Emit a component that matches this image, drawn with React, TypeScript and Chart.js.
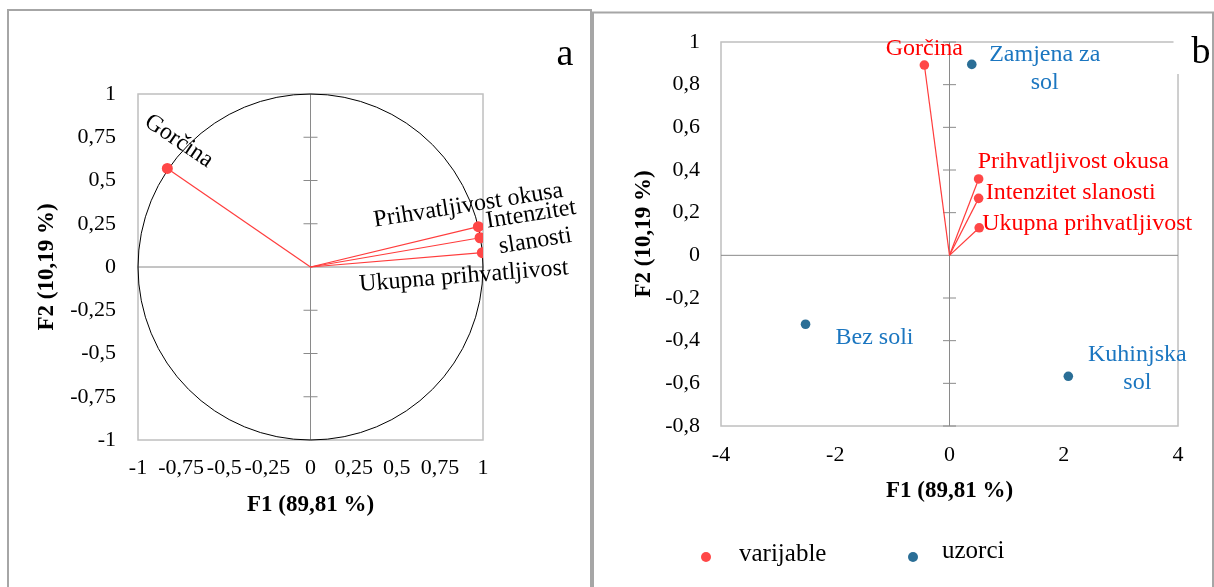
import React, { useEffect, useRef } from 'react';
import { Chart, registerables } from 'chart.js';

Chart.register(...registerables);

const FONT = '"Liberation Serif", "Times New Roman", Times, serif';

// ---------- shared text ----------
const xTitle = 'F1 (89,81 %)';
const yTitle = 'F2 (10,19 %)';

// ---------- panel a: correlation circle ----------
const aVarLabels: (string | string[])[] = ['Gorčina', 'Prihvatljivost okusa', ['Intenzitet', 'slanosti'], 'Ukupna prihvatljivost'];
const aF1 = [-0.83, 0.973, 0.983, 0.996];
const aF2 = [0.57, 0.233, 0.169, 0.083];
const aTicks = [-1, -0.75, -0.5, -0.25, 0, 0.25, 0.5, 0.75, 1];

// ---------- panel b: biplot ----------
const bVarLabels = ['Gorčina', 'Prihvatljivost okusa', 'Intenzitet slanosti', 'Ukupna prihvatljivost'];
const bVarF1 = [-0.44, 0.51, 0.51, 0.52];
const bVarF2 = [0.892, 0.358, 0.267, 0.129];
const sampleLabels: string[][] = [['Zamjena za', 'sol'], ['Bez soli'], ['Kuhinjska', 'sol']];
const sampleF1 = [0.39, -2.52, 2.08];
const sampleF2 = [0.895, -0.323, -0.567];
const bXTicks = [-4, -2, 0, 2, 4];
const bYTicks = [-0.8, -0.6, -0.4, -0.2, 0, 0.2, 0.4, 0.6, 0.8, 1];
const legendNames = ['varijable', 'uzorci'];

// ---------- styles (label placement relative to the point, in px) ----------
const aLabelStyle = [
  { dx: 8, dy: -22, rot: 34 },
  { dx: -9, dy: -15, rot: -9 },
  { dx: 52, dy: -17, rot: -9 },
  { dx: -18, dy: 30, rot: -4.6 },
];
const bVarLabelStyle = [
  { dx: 0, dy: -10, align: 'center' },
  { dx: -1, dy: -11, align: 'left' },
  { dx: 7, dy: 1, align: 'left' },
  { dx: 3, dy: 2, align: 'left' },
];
const sampleLabelStyle = [
  { dx: 73, dy: -3 },
  { dx: 69, dy: 20 },
  { dx: 69, dy: -15 },
];

const RED_PT = '#FF4747';
const RED_LINE = '#FF3C3C';
const RED_TXT = '#FF0000';
const BLUE_PT = '#2A6E96';
const BLUE_TXT = '#1B76C0';
const FRAME = '#A6A6A6';
const PLOT_BORDER = '#BFBFBF';
const AXIS = '#8A8A8A';

const fmt = (v: any) => String(v).replace('.', ',');

function drawText(
  ctx: CanvasRenderingContext2D,
  lines: string[],
  x: number,
  y: number,
  o: { rot?: number; align?: CanvasTextAlign; color: string; size: number; lh?: number; weight?: string }
) {
  ctx.save();
  ctx.translate(x, y);
  ctx.rotate(((o.rot || 0) * Math.PI) / 180);
  ctx.font = `${o.weight || 'normal'} ${o.size}px ${FONT}`;
  ctx.fillStyle = o.color;
  ctx.textAlign = o.align || 'center';
  ctx.textBaseline = 'alphabetic';
  lines.forEach((t, i) => ctx.fillText(t, 0, i * (o.lh || 27)));
  ctx.restore();
}

function line(ctx: CanvasRenderingContext2D, x1: number, y1: number, x2: number, y2: number) {
  ctx.beginPath();
  ctx.moveTo(x1, y1);
  ctx.lineTo(x2, y2);
  ctx.stroke();
}

function axisCfg(ticks: number[], min: number, max: number, title: string, isX: boolean, size: number, pad: number, titlePad: any) {
  return {
    type: 'linear' as const,
    min,
    max,
    afterBuildTicks: (s: any) => {
      s.ticks = ticks.map((v) => ({ value: v }));
    },
    afterFit: (s: any) => {
      if (isX) s.height = size;
      else s.width = size;
    },
    grid: { display: false, drawTicks: false, tickLength: 0 },
    border: { display: false },
    ticks: {
      autoSkip: false,
      maxRotation: 0,
      minRotation: 0,
      padding: pad,
      color: '#000',
      font: { family: FONT, size: 22 },
      callback: (v: any) => fmt(v),
    },
    title: {
      display: true,
      text: title,
      color: '#000',
      font: { family: FONT, size: 23, weight: 'bold' as const },
      padding: titlePad,
    },
  };
}

const panelAPlugin = {
  id: 'panelA',
  beforeDatasetsDraw(chart: any) {
    const { ctx, chartArea: ca, scales } = chart;
    const xs = scales.x;
    const ys = scales.y;
    ctx.save();
    ctx.strokeStyle = FRAME;
    ctx.lineWidth = 2;
    ctx.beginPath();
    ctx.moveTo(8, 587);
    ctx.lineTo(8, 10);
    ctx.lineTo(591, 10);
    ctx.lineTo(591, 587);
    ctx.stroke();

    ctx.strokeStyle = PLOT_BORDER;
    ctx.lineWidth = 1.5;
    ctx.strokeRect(ca.left, ca.top, ca.right - ca.left, ca.bottom - ca.top);

    const x0 = xs.getPixelForValue(0);
    const y0 = ys.getPixelForValue(0);
    ctx.strokeStyle = AXIS;
    ctx.lineWidth = 1;
    line(ctx, ca.left, y0, ca.right, y0);
    line(ctx, x0, ca.top, x0, ca.bottom);
    aTicks.forEach((v) => {
      if (v !== 0 && Math.abs(v) < 1) {
        const py = ys.getPixelForValue(v);
        line(ctx, x0 - 7, py, x0 + 7, py);
      }
    });

    ctx.strokeStyle = '#000';
    ctx.lineWidth = 1;
    ctx.beginPath();
    ctx.ellipse(x0, y0, xs.getPixelForValue(1) - x0, y0 - ys.getPixelForValue(1), 0, 0, Math.PI * 2);
    ctx.stroke();
    ctx.restore();
  },
  afterDatasetsDraw(chart: any) {
    const { ctx, scales } = chart;
    aVarLabels.forEach((lab, i) => {
      const px = scales.x.getPixelForValue(aF1[i]);
      const py = scales.y.getPixelForValue(aF2[i]);
      const st = aLabelStyle[i];
      drawText(ctx, Array.isArray(lab) ? lab : [lab], px + st.dx, py + st.dy, {
        rot: st.rot,
        color: '#000',
        size: 24,
        lh: 27,
      });
    });
    drawText(ctx, ['a'], 565, 65, { color: '#000', size: 38 });
  },
};

const OFFSET_B = 592;

const panelBPlugin = {
  id: 'panelB',
  beforeDatasetsDraw(chart: any) {
    const { ctx, chartArea: ca, scales } = chart;
    const xs = scales.x;
    const ys = scales.y;
    ctx.save();
    ctx.strokeStyle = FRAME;
    ctx.lineWidth = 2;
    ctx.beginPath();
    ctx.moveTo(1, 587);
    ctx.lineTo(1, 12.5);
    ctx.lineTo(621, 12.5);
    ctx.lineTo(621, 587);
    ctx.stroke();

    ctx.strokeStyle = PLOT_BORDER;
    ctx.lineWidth = 1.5;
    ctx.strokeRect(ca.left, ca.top, ca.right - ca.left, ca.bottom - ca.top);

    const x0 = xs.getPixelForValue(0);
    const y0 = ys.getPixelForValue(0);
    ctx.strokeStyle = AXIS;
    ctx.lineWidth = 1;
    line(ctx, ca.left, y0, ca.right, y0);
    line(ctx, x0, ca.top, x0, ca.bottom);
    bYTicks.forEach((v) => {
      if (v !== 0) {
        const py = ys.getPixelForValue(v);
        line(ctx, x0 - 6.5, py, x0 + 6.5, py);
      }
    });
    // white box behind panel letter
    ctx.fillStyle = '#fff';
    ctx.fillRect(1173.5 - OFFSET_B, 14, 38, 60);
    ctx.restore();
  },
  afterDatasetsDraw(chart: any) {
    const { ctx, scales } = chart;
    bVarLabels.forEach((lab, i) => {
      const px = scales.x.getPixelForValue(bVarF1[i]);
      const py = scales.y.getPixelForValue(bVarF2[i]);
      const st = bVarLabelStyle[i];
      drawText(ctx, [lab], px + st.dx, py + st.dy, {
        align: st.align as CanvasTextAlign,
        color: RED_TXT,
        size: 24,
      });
    });
    sampleLabels.forEach((lab, i) => {
      const px = scales.x.getPixelForValue(sampleF1[i]);
      const py = scales.y.getPixelForValue(sampleF2[i]);
      const st = sampleLabelStyle[i];
      drawText(ctx, lab, px + st.dx, py + st.dy, { color: BLUE_TXT, size: 24, lh: 28 });
    });
    drawText(ctx, ['b'], 1201 - OFFSET_B, 63, { color: '#000', size: 38 });

    // legend
    const legendItems = [
      { dotX: 706, dotY: 557, textX: 739, baseY: 561, color: RED_PT },
      { dotX: 913, dotY: 557, textX: 942, baseY: 558, color: BLUE_PT },
    ];
    legendItems.forEach((it, i) => {
      ctx.save();
      ctx.fillStyle = it.color;
      ctx.beginPath();
      ctx.arc(it.dotX - OFFSET_B, it.dotY, 5, 0, Math.PI * 2);
      ctx.fill();
      ctx.restore();
      drawText(ctx, [legendNames[i]], it.textX - OFFSET_B, it.baseY, { align: 'left', color: '#000', size: 25 });
    });
  },
};

export default function App() {
  const refA = useRef<HTMLCanvasElement>(null);
  const refB = useRef<HTMLCanvasElement>(null);

  useEffect(() => {
    if (!refA.current || !refB.current) return;

    const chartA = new Chart(refA.current, {
      type: 'scatter',
      data: {
        datasets: [
          {
            label: 'varijable',
            data: aF1.map((v, i) => ({ x: v, y: aF2[i] })),
            backgroundColor: RED_PT,
            pointBackgroundColor: RED_PT,
            pointBorderWidth: 0,
            pointRadius: 5.5,
            order: 0,
          } as any,
          ...aF1.map(
            (v, i) =>
              ({
                label: 'vec' + i,
                data: [
                  { x: 0, y: 0 },
                  { x: v, y: aF2[i] },
                ],
                showLine: true,
                borderColor: RED_LINE,
                borderWidth: 1.2,
                pointRadius: 0,
                order: 1,
              } as any)
          ),
        ],
      },
      options: {
        responsive: false,
        animation: false,
        layout: { padding: { left: 33, top: 94, right: 109, bottom: 67 } },
        plugins: { legend: { display: false }, tooltip: { enabled: false } },
        scales: {
          x: axisCfg(aTicks, -1, 1, xTitle, true, 80, 15, { top: 0, bottom: 1 }),
          y: axisCfg(aTicks, -1, 1, yTitle, false, 105, 22, { top: 0, bottom: 0 }),
        } as any,
      },
      plugins: [panelAPlugin as any],
    });

    const chartB = new Chart(refB.current, {
      type: 'scatter',
      data: {
        datasets: [
          {
            label: 'varijable',
            data: bVarF1.map((v, i) => ({ x: v, y: bVarF2[i] })),
            backgroundColor: RED_PT,
            pointBackgroundColor: RED_PT,
            pointBorderWidth: 0,
            pointRadius: 4.8,
            order: 0,
          } as any,
          {
            label: 'uzorci',
            data: sampleF1.map((v, i) => ({ x: v, y: sampleF2[i] })),
            backgroundColor: BLUE_PT,
            pointBackgroundColor: BLUE_PT,
            pointBorderWidth: 0,
            pointRadius: 4.8,
            order: 0,
          } as any,
          ...bVarF1.map(
            (v, i) =>
              ({
                label: 'vec' + i,
                data: [
                  { x: 0, y: 0 },
                  { x: v, y: bVarF2[i] },
                ],
                showLine: true,
                borderColor: RED_LINE,
                borderWidth: 1.2,
                pointRadius: 0,
                order: 1,
              } as any)
          ),
        ],
      },
      options: {
        responsive: false,
        animation: false,
        layout: { padding: { left: 38, top: 42, right: 36, bottom: 81 } },
        plugins: { legend: { display: false }, tooltip: { enabled: false } },
        scales: {
          x: axisCfg(bXTicks, -4, 4, xTitle, true, 80, 16, { top: 0, bottom: 1 }),
          y: axisCfg(bYTicks, -0.8, 1, yTitle, false, 91, 21, { top: 0, bottom: 0 }),
        } as any,
      },
      plugins: [panelBPlugin as any],
    });

    return () => {
      chartA.destroy();
      chartB.destroy();
    };
  }, []);

  return (
    <div style={{ position: 'absolute', left: 0, top: 0, width: 1214, height: 587, background: '#fff' }}>
      <canvas
        ref={refA}
        width={592}
        height={587}
        style={{ position: 'absolute', left: 0, top: 0, width: 592, height: 587 }}
      />
      <canvas
        ref={refB}
        width={622}
        height={587}
        style={{ position: 'absolute', left: OFFSET_B, top: 0, width: 622, height: 587 }}
      />
    </div>
  );
}
